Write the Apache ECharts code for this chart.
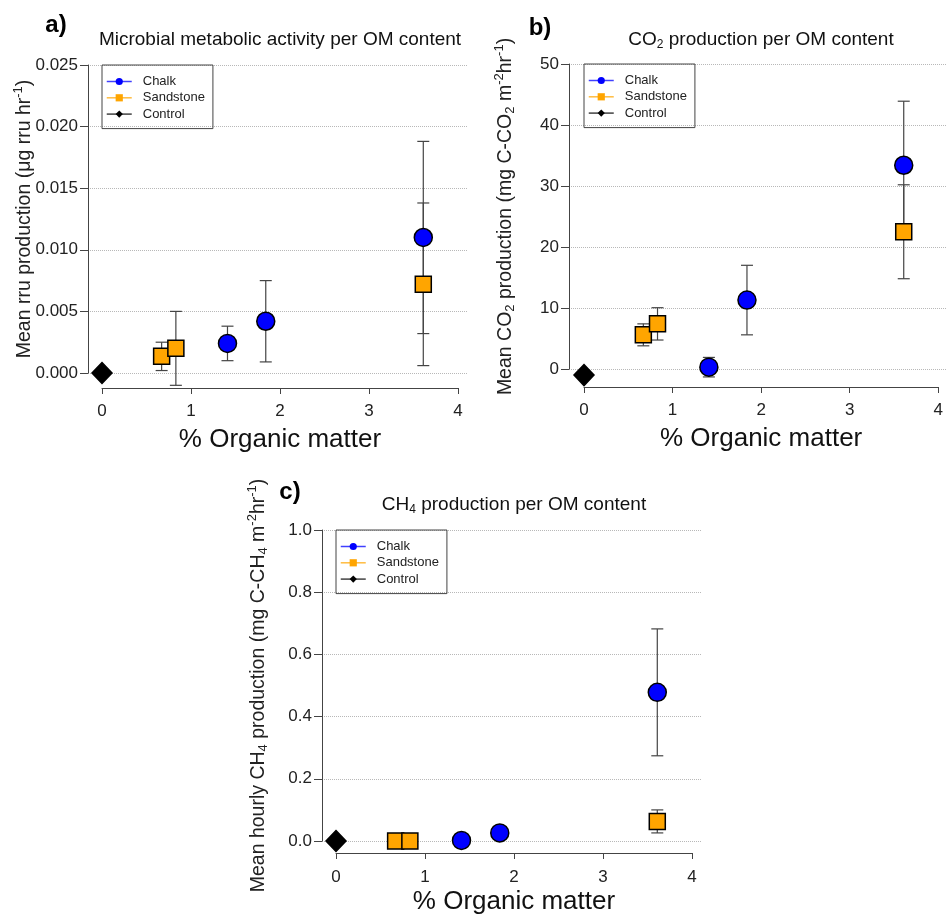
<!DOCTYPE html>
<html>
<head>
<meta charset="utf-8">
<title>Production per OM content</title>
<script src="https://cdn.jsdelivr.net/npm/echarts@6/dist/echarts.min.js"></script>
<style>
  html, body { margin: 0; padding: 0; background: #fff; }
  #chart { width: 946px; height: 921px; }
</style>
</head>
<body>
<div id="chart"></div>
<script>
// % organic matter of each substrate
const chalkOM = [1.41, 1.84, 3.61];
const sandOM = [0.67, 0.83, 3.61];
const controlOM = [0];

// a) microbial metabolic activity (ug rru hr-1), mean and error
const rruChalk = [0.0024, 0.0042, 0.0110];
const rruChalkErr = [0.0014, 0.0033, 0.0078];
const rruSand = [0.00135, 0.0020, 0.0072];
const rruSandErr = [0.00115, 0.0030, 0.0066];
const rruControl = [0];

// b) CO2 production (mg C-CO2 m-2 hr-1)
const co2Chalk = [0.3, 11.3, 33.4];
const co2ChalkErr = [1.6, 5.7, 10.5];
const co2Sand = [5.6, 7.4, 22.5];
const co2SandErr = [1.8, 2.65, 7.7];
const co2Control = [-1.0];

// c) CH4 production (mg C-CH4 m-2 hr-1)
const ch4Chalk = [0.002, 0.026, 0.478];
const ch4ChalkErr = [0.004, 0.006, 0.204];
const ch4Sand = [0, 0, 0.063];
const ch4SandErr = [0, 0, 0.037];
const ch4Control = [0];

const legendNames = ['Chalk', 'Sandstone', 'Control'];
const xLabel = '% Organic matter';

const FONT = '"Liberation Sans", Arial, sans-serif';
const BLUE = '#0000ff';
const ORANGE = '#ffa500';
const BLACK = '#000000';

const scriptRich = {
  sup: { fontSize: 13, color: '#222', padding: [0, 0, 13, 0] },
  sub: { fontSize: 13, color: '#222', padding: [9, 0, 0, 0] }
};

// layout of the three panels (pixels)
const panels = [
  {
    tag: 'a)', tagX: 56, tagY: 25,
    title: 'Microbial metabolic activity per OM content', titleX: 280, titleY: 40,
    yName: 'Mean rru production (μg rru hr{sup|-1})', yNameGap: 50,
    axisX: 88, x0: 102, x4: 458, right: 467, top: 65, bottom: 373, xAxisY: 388,
    yMin: 0, yMax: 0.025, yStep: 0.005, digits: 3,
    xNameGap: 39, xLabelMargin: 15,
    chalk: rruChalk, chalkErr: rruChalkErr, sand: rruSand, sandErr: rruSandErr, control: rruControl
  },
  {
    tag: 'b)', tagX: 540, tagY: 28,
    title: 'CO{sub|2} production per OM content', titleX: 761, titleY: 40,
    yName: 'Mean CO{sub|2} production (mg C-CO{sub|2} m{sup|-2}hr{sup|-1})', yNameGap: 50,
    axisX: 569, x0: 584, x4: 940, right: 946, top: 64, bottom: 369, xAxisY: 387,
    yMin: 0, yMax: 50, yStep: 10, digits: 0,
    xNameGap: 39, xLabelMargin: 15,
    chalk: co2Chalk, chalkErr: co2ChalkErr, sand: co2Sand, sandErr: co2SandErr, control: co2Control
  },
  {
    tag: 'c)', tagX: 290, tagY: 492,
    title: 'CH{sub|4} production per OM content', titleX: 514, titleY: 505,
    yName: 'Mean hourly CH{sub|4} production (mg C-CH{sub|4} m{sup|-2}hr{sup|-1})', yNameGap: 50,
    axisX: 322, x0: 336, x4: 692, right: 702, top: 530, bottom: 841, xAxisY: 853,
    yMin: 0, yMax: 1.0, yStep: 0.2, digits: 1,
    xNameGap: 36, xLabelMargin: 16,
    chalk: ch4Chalk, chalkErr: ch4ChalkErr, sand: ch4Sand, sandErr: ch4SandErr, control: ch4Control
  }
];

function points(xs, ys) {
  return xs.map(function (x, i) { return [x, ys[i]]; });
}

function errorData(xs, means, errs) {
  const out = [];
  xs.forEach(function (x, i) {
    if (errs[i] > 0) out.push([x, means[i] - errs[i], means[i] + errs[i]]);
  });
  return out;
}

function renderErrorBar(params, api) {
  const x = api.value(0);
  const lo = api.coord([x, api.value(1)]);
  const hi = api.coord([x, api.value(2)]);
  const w = 6;
  const st = { stroke: '#444', lineWidth: 1.2 };
  return {
    type: 'group',
    children: [
      { type: 'line', shape: { x1: lo[0], y1: lo[1], x2: hi[0], y2: hi[1] }, style: st },
      { type: 'line', shape: { x1: lo[0] - w, y1: lo[1], x2: lo[0] + w, y2: lo[1] }, style: st },
      { type: 'line', shape: { x1: hi[0] - w, y1: hi[1], x2: hi[0] + w, y2: hi[1] }, style: st }
    ]
  };
}

const grid = [], xAxis = [], yAxis = [], series = [], legend = [], graphic = [];

panels.forEach(function (p, k) {
  const bg = 2 * k, main = 2 * k + 1;

  // background grid only for the dotted guide lines (they reach from the y axis to the edge)
  grid.push({ left: p.axisX, top: p.top, width: p.right - p.axisX, height: p.bottom - p.top });
  grid.push({ left: p.x0, top: p.top, width: p.x4 - p.x0, height: p.bottom - p.top });

  xAxis.push({ gridIndex: bg, type: 'value', show: false, min: 0, max: 1 });
  yAxis.push({
    gridIndex: bg, type: 'value', min: p.yMin, max: p.yMax, interval: p.yStep,
    axisLine: { show: false }, axisTick: { show: false }, axisLabel: { show: false },
    splitLine: { show: true, lineStyle: { type: 'dotted', color: '#b8b8b8', width: 1 } }
  });

  xAxis.push({
    gridIndex: main, type: 'value', min: 0, max: 4, interval: 1,
    position: 'bottom', offset: p.xAxisY - p.bottom,
    axisLine: { show: true, onZero: false, lineStyle: { color: '#444', width: 1 } },
    axisTick: { show: true, length: 6, lineStyle: { color: '#444' } },
    axisLabel: { fontSize: 17, color: '#222', margin: p.xLabelMargin, fontFamily: FONT },
    splitLine: { show: false },
    name: xLabel, nameLocation: 'middle', nameGap: p.xNameGap, nameMoveOverlap: false,
    nameTextStyle: { fontSize: 26, color: '#111', fontFamily: FONT }
  });
  yAxis.push({
    gridIndex: main, type: 'value', min: p.yMin, max: p.yMax, interval: p.yStep,
    position: 'left', offset: p.x0 - p.axisX,
    axisLine: { show: true, onZero: false, lineStyle: { color: '#444', width: 1 } },
    axisTick: { show: true, length: 8, lineStyle: { color: '#444' } },
    axisLabel: {
      fontSize: 17, color: '#222', margin: 10, fontFamily: FONT,
      formatter: function (v) { return v.toFixed(p.digits); }
    },
    splitLine: { show: false },
    name: p.yName, nameLocation: 'middle', nameRotate: 90, nameGap: p.yNameGap, nameMoveOverlap: false,
    nameTextStyle: { fontSize: 19.5, color: '#222', fontFamily: FONT, rich: scriptRich }
  });

  // error bars under the markers
  series.push({
    type: 'custom', name: 'Chalk error', xAxisIndex: main, yAxisIndex: main,
    renderItem: renderErrorBar, encode: { x: 0, y: [1, 2] }, clip: false, z: 2,
    data: errorData(chalkOM, p.chalk, p.chalkErr)
  });
  series.push({
    type: 'custom', name: 'Sandstone error', xAxisIndex: main, yAxisIndex: main,
    renderItem: renderErrorBar, encode: { x: 0, y: [1, 2] }, clip: false, z: 2,
    data: errorData(sandOM, p.sand, p.sandErr)
  });

  const groups = [
    { name: 'Chalk', xs: chalkOM, ys: p.chalk, color: BLUE, symbol: 'circle', size: 18 },
    { name: 'Sandstone', xs: sandOM, ys: p.sand, color: ORANGE, symbol: 'rect', size: 16 },
    { name: 'Control', xs: controlOM, ys: p.control, color: BLACK, symbol: 'diamond', size: [20, 21] }
  ];
  groups.forEach(function (g) {
    series.push({
      type: 'line', name: g.name, xAxisIndex: main, yAxisIndex: main,
      data: points(g.xs, g.ys),
      symbol: g.symbol, symbolSize: g.size, showSymbol: true, clip: false, z: 3,
      lineStyle: { color: g.color, width: 1.5, opacity: 0 },
      itemStyle: { color: g.color, borderColor: '#000', borderWidth: 1.5 },
      emphasis: { disabled: true }
    });
  });

  legend.push({
    data: legendNames, orient: 'vertical', left: p.x0, top: p.top,
    borderColor: '#444', borderWidth: 1, padding: [10, 8, 8, 4],
    itemWidth: 25, itemHeight: 9, itemGap: 3.3, selectedMode: false,
    textStyle: { fontSize: 13, color: '#222', fontFamily: FONT, padding: [0, 0, 0, 6] },
    lineStyle: { opacity: 0.75, width: 1.5 },
    itemStyle: { borderWidth: 0 }
  });

  graphic.push({
    type: 'text', x: p.tagX, y: p.tagY,
    style: { text: p.tag, fontSize: 24, fontWeight: 'bold', fontFamily: FONT, fill: '#000', align: 'center', verticalAlign: 'middle' }
  });
  graphic.push({
    type: 'text', x: p.titleX, y: p.titleY,
    style: {
      text: p.title, fontSize: 19, fontFamily: FONT, fill: '#111', align: 'center', verticalAlign: 'middle',
      rich: { sub: { fontSize: 12, fontFamily: FONT, fill: '#111', padding: [9, 0, 0, 0] } }
    }
  });
});

const chart = echarts.init(document.getElementById('chart'), null, { renderer: 'canvas' });
chart.setOption({
  animation: false,
  backgroundColor: '#ffffff',
  textStyle: { fontFamily: FONT },
  grid: grid,
  xAxis: xAxis,
  yAxis: yAxis,
  legend: legend,
  series: series,
  graphic: graphic
});
</script>
</body>
</html>
